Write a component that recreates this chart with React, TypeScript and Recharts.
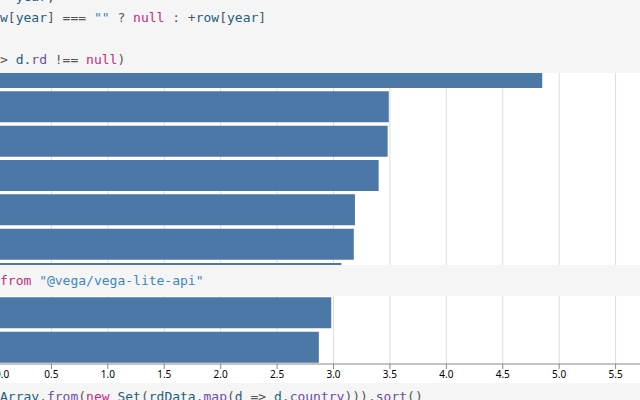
import React from 'react';
import {
  BarChart,
  Bar,
  XAxis,
  YAxis,
  CartesianGrid,
} from 'recharts';

// R&D spending as share of GDP, sorted descending
const countries = [
  'Israel',
  'Korea',
  'Sweden',
  'Japan',
  'Switzerland',
  'Austria',
  'Germany',
  'Denmark',
  'United States',
];
const rdShare = [4.85, 3.49, 3.48, 3.4, 3.19, 3.18, 3.07, 2.98, 2.87];
const xTicks = [0, 0.5, 1, 1.5, 2, 2.5, 3, 3.5, 4, 4.5, 5, 5.5, 6];

type Token = [string, string];

const KW = '#c52c7e';
const STR = '#3a86c0';
const VAR = '#23607c';
const PROP = '#6b4ea6';
const OP = '#555';

// notebook cells drawn over the chart
const topCell: Token[][] = [
  [['  year', VAR], [',', OP]],
  [
    ['w', VAR], ['[', OP], ['year', VAR], [']', OP], [' === ', OP], ['""', STR],
    [' ? ', OP], ['null', KW], [' : +', OP], ['row', VAR], ['[', OP], ['year', VAR], [']', OP],
  ],
  [],
  [['> ', OP], ['d', VAR], ['.', OP], ['rd', PROP], [' !== ', OP], ['null', KW], [')', OP]],
];
const middleCell: Token[] = [['from ', KW], ['"@vega/vega-lite-api"', STR]];
const bottomCell: Token[] = [
  ['Array', VAR], ['.', OP], ['from', PROP], ['(', OP], ['new ', KW], ['Set', VAR], ['(', OP],
  ['rdData', VAR], ['.', OP], ['map', PROP], ['(', OP], ['d', VAR], [' => ', OP], ['d', VAR],
  ['.', OP], ['country', PROP], [')))', OP], ['.', OP], ['sort', PROP], ['()', OP],
];

const chartData = countries.map((country, i) => ({ country, rd: rdShare[i] }));

const codeFont = '"DejaVu Sans Mono", "Liberation Mono", monospace';

const CodeLine = ({ tokens, top }: { tokens: Token[]; top: number }) => (
  <div
    style={{
      position: 'absolute',
      left: 0,
      top,
      height: 21,
      lineHeight: '21px',
      fontFamily: codeFont,
      fontSize: 13,
      whiteSpace: 'pre',
    }}
  >
    {tokens.map(([text, color], i) => (
      <span key={i} style={{ color }}>
        {text}
      </span>
    ))}
  </div>
);

const Cell = ({ top, height }: { top: number; height: number }) => (
  <div
    style={{
      position: 'absolute',
      left: 0,
      top,
      width: 640,
      height,
      background: '#f5f5f5',
    }}
  />
);

const AxisTick = (props: any) => {
  const { x, y, payload } = props;
  const v = payload.value as number;
  return (
    <text
      x={x}
      y={y}
      dy="0.71em"
      textAnchor={v === 0 ? 'start' : 'middle'}
      fontSize={10}
      fontFamily='"Noto Sans", sans-serif'
      fill="#000"
    >
      {v.toFixed(1)}
    </text>
  );
};

export default function App() {
  return (
    <div
      style={{
        position: 'absolute',
        left: 0,
        top: 0,
        width: 640,
        height: 400,
        overflow: 'hidden',
        background: '#fff',
      }}
    >
      <div style={{ position: 'absolute', left: -5, top: 0 }}>
        <BarChart
          width={677}
          height={394}
          layout="vertical"
          data={chartData}
          margin={{ top: 55, right: 0, left: 0, bottom: 0 }}
        >
          <CartesianGrid horizontal={false} stroke="#ddd" />
          <XAxis
            type="number"
            dataKey="rd"
            domain={[0, 6]}
            ticks={xTicks}
            height={30}
            tickSize={5}
            tickMargin={2}
            stroke="#888"
            tick={<AxisTick />}
            interval={0}
          />
          <YAxis type="category" dataKey="country" hide width={0} />
          <Bar dataKey="rd" fill="#4c78a8" barSize={31} isAnimationActive={false} />
        </BarChart>
      </div>

      <Cell top={0} height={73} />
      {topCell.map((tokens, i) => (
        <CodeLine key={i} tokens={tokens} top={-14.5 + i * 21} />
      ))}

      <Cell top={265} height={31} />
      <CodeLine tokens={middleCell} top={270} />

      <Cell top={383} height={17} />
      <CodeLine tokens={bottomCell} top={386} />
    </div>
  );
}
